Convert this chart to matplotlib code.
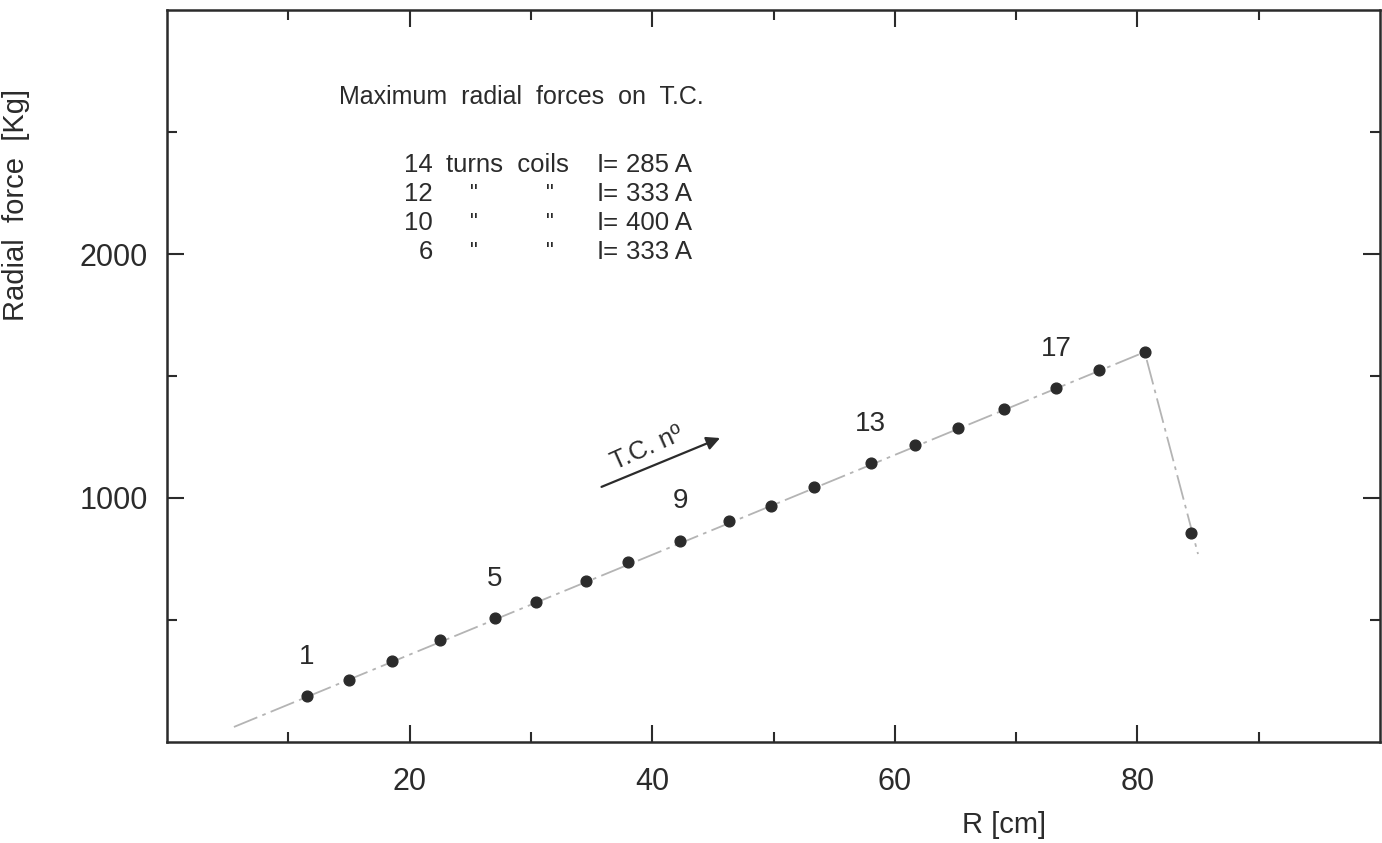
import matplotlib.pyplot as plt

plt.rcParams['font.family'] = ['Liberation Sans', 'DejaVu Sans']

ink = '#2b2b2b'

# measured points: radius (cm) and max radial force (kg) per T.C.
R = [11.5, 15.0, 18.5, 22.5, 27.0, 30.4, 34.5, 38.0, 42.3, 46.3,
     49.8, 53.3, 58.0, 61.7, 65.2, 69.0, 73.3, 76.8, 80.6, 84.4]
F = [188, 254, 332, 418, 508, 574, 660, 738, 824, 906,
     967, 1045, 1143, 1217, 1287, 1365, 1451, 1525, 1598, 857]

# trend line drawn through the points
line_R = [5.5, 80.6, 85.0]
line_F = [61, 1598, 770]

# coil number labels
tc_numbers = [1, 5, 9, 13, 17]

# legend table
turns = ['14', '12', '10', '6']
currents = ['285 A', '333 A', '400 A', '333 A']

fig = plt.figure(figsize=(13.82, 8.43), dpi=100)
ax = fig.add_axes([0.121, 0.12, 0.8775, 0.868])

ax.plot(line_R, line_F, color='#b4b4b4', lw=1.3, ls=(0, (14, 3, 2, 3)), zorder=1)
ax.scatter(R, F, s=60, color=ink, zorder=3)

for n in tc_numbers:
    ax.annotate(str(n), (R[n - 1], F[n - 1]), xytext=(0, 19), textcoords='offset points',
                ha='center', va='bottom', fontsize=20, color=ink)

ax.text(14.2, 2643, 'Maximum  radial  forces  on  T.C.', fontsize=18, color=ink, va='center')
for i, (t, c) in enumerate(zip(turns, currents)):
    y = 2366 - i * 119
    ax.text(21.9, y, t, fontsize=18.5, color=ink, ha='right', va='center')
    if i == 0:
        ax.text(23.0, y, 'turns  coils', fontsize=18.5, color=ink, va='center')
    else:
        ax.text(25.3, y, '"', fontsize=16, color=ink, ha='center', va='center')
        ax.text(31.6, y, '"', fontsize=16, color=ink, ha='center', va='center')
    ax.text(35.4, y, 'I=', fontsize=18.5, color=ink, va='center')
    ax.text(37.8, y, c, fontsize=18.5, color=ink, va='center')

ax.annotate('', xy=(45.8, 1250), xytext=(35.6, 1041),
            arrowprops=dict(arrowstyle='-|>', color=ink, lw=1.6, mutation_scale=20))
ax.text(39.6, 1205, 'T.C. nº', fontsize=18.5, color=ink, rotation=24,
        ha='center', va='center', rotation_mode='anchor')

ax.set_xlim(0, 100)
ax.set_ylim(0, 3000)
ax.set_xticks([20, 40, 60, 80])
ax.set_xticks(range(10, 100, 20), minor=True)
ax.set_yticks([1000, 2000])
ax.set_yticks([500, 1500, 2500], minor=True)
ax.tick_params(which='both', direction='in', top=True, right=True, colors=ink,
               width=1.5, labelsize=22)
ax.tick_params(which='major', length=12)
ax.tick_params(which='minor', length=7)
ax.tick_params(axis='x', pad=18)
ax.tick_params(axis='y', pad=14)
for s in ax.spines.values():
    s.set_linewidth(1.8)
    s.set_color(ink)

ax.set_xlabel('R [cm]', fontsize=21, color=ink)
ax.xaxis.set_label_coords(0.69, -0.094)
ax.set_ylabel('Radial  force  [Kg]', fontsize=21, color=ink)
ax.yaxis.set_label_coords(-0.113, 0.734)

fig.savefig('out.png', dpi=100)
